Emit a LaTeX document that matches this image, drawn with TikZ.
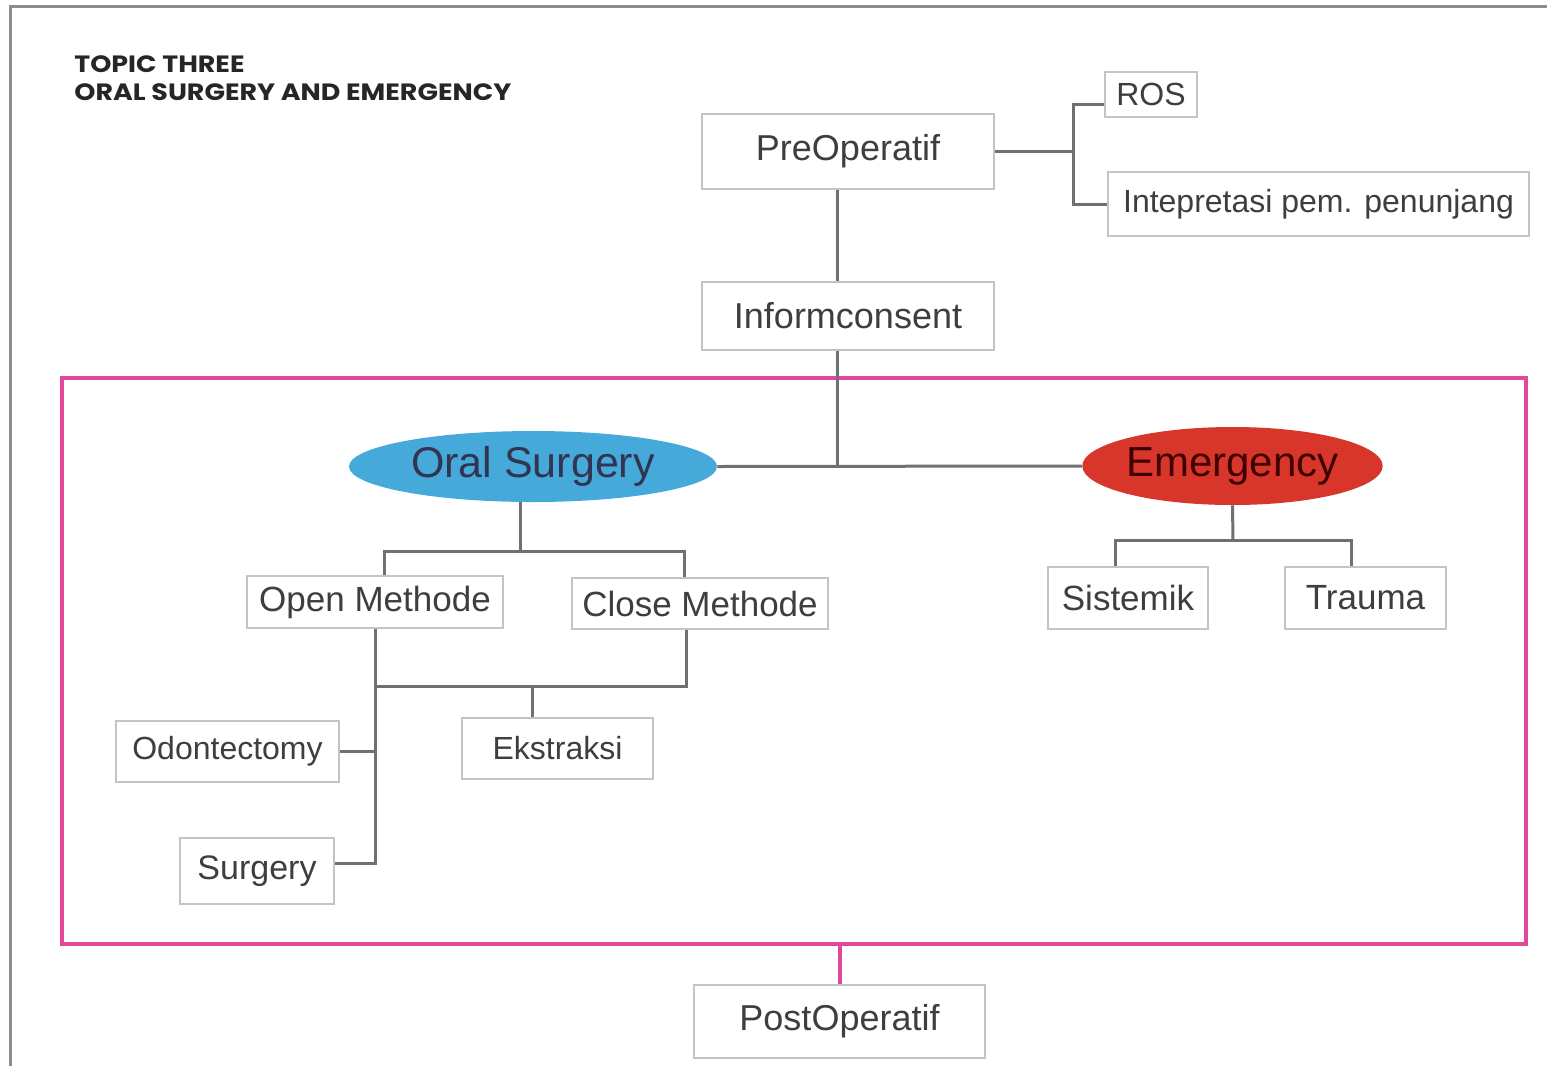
\documentclass[tikz,border=0pt]{standalone}
\usepackage{fontspec}
\setmainfont{Liberation Sans}
\newfontfamily\titlefont{Poppins}
\usetikzlibrary{shapes.geometric}
\definecolor{linegray}{HTML}{707070}
\definecolor{boxgray}{HTML}{C4C4C4}
\definecolor{txtgray}{HTML}{3E3E3E}
\definecolor{framegray}{HTML}{8C8C8C}
\definecolor{pinkc}{HTML}{E2479A}
\definecolor{osblue}{HTML}{45AADA}
\definecolor{emred}{HTML}{D8362B}
\tikzset{
  box/.style={draw=boxgray, line width=1pt, fill=white, inner sep=0pt, text=txtgray},
  conn/.style={draw=linegray, line width=1.5pt},
  pinkln/.style={draw=pinkc, line width=2pt},
  oval/.style={ellipse, inner sep=0pt, draw=none},
  titletxt/.style={anchor=base west, inner sep=0pt, font=\titlefont\bfseries\fontsize{11.8}{12}\selectfont, text=black!85},
}
\begin{document}
\begin{tikzpicture}[x=0.5pt,y=-0.5pt]
\useasboundingbox (0,0) rectangle (1547,1066);
% outer frame
\draw[framegray, line width=1.5pt] (10,1066) -- (10,6) -- (1547,6);
% title
\node[titletxt] (t1) at (74,72) {\scalebox{1.14}[1]{TOPIC THREE}};
\node[titletxt] (t2) at (74,100) {\scalebox{1.14}[1]{ORAL SURGERY AND EMERGENCY}};
% pink frame
\node[pinkln, minimum width=732pt, minimum height=283pt, inner sep=0pt] (frame) at (794,661) {};
% nodes
\node[box, minimum width=146pt, minimum height=37.5pt, font=\fontsize{18}{20}\selectfont] (pre) at (848,151.5) {PreOperatif};
\node[box, minimum width=46pt, minimum height=22.5pt, font=\fontsize{16}{18}\selectfont] (ros) at (1151,94.5) {ROS};
\node[box, minimum width=210.5pt, minimum height=32pt, font=\fontsize{16}{18}\selectfont] (intep) at (1318.5,204) {Intepretasi pem. penunjang};
\node[box, minimum width=146pt, minimum height=34pt, font=\fontsize{18}{20}\selectfont] (inf) at (848,316) {Informconsent};
\node[oval, fill=osblue, minimum width=184pt, minimum height=35.5pt, text=black!80!blue!60!gray, font=\fontsize{21.5}{23}\selectfont] (os) at (533,466.5) {Oral Surgery};
\node[oval, fill=emred, minimum width=145.5pt, minimum height=39pt, text=black!75!red, font=\fontsize{21}{23}\selectfont] (em) at (1232.5,466) {Emergency};
\node[box, minimum width=128pt, minimum height=26pt, font=\fontsize{17.5}{19}\selectfont] (open) at (375,602) {Open Methode};
\node[box, minimum width=128pt, minimum height=25.5pt, font=\fontsize{17.5}{19}\selectfont] (close) at (700,603.5) {Close Methode};
\node[box, minimum width=95.5pt, minimum height=30.5pt, font=\fontsize{16}{18}\selectfont] (ekst) at (557.5,748.5) {Ekstraksi};
\node[box, minimum width=111.5pt, minimum height=30.5pt, font=\fontsize{16}{18}\selectfont] (odo) at (227.5,751.5) {Odontectomy};
\node[box, minimum width=77pt, minimum height=33pt, font=\fontsize{17}{19}\selectfont] (surg) at (257,871) {Surgery};
\node[box, minimum width=80pt, minimum height=31pt, font=\fontsize{17.5}{19}\selectfont] (sis) at (1128,598) {Sistemik};
\node[box, minimum width=80.5pt, minimum height=31pt, font=\fontsize{17.5}{19}\selectfont] (tra) at (1365.5,598) {Trauma};
\node[box, minimum width=145.5pt, minimum height=36.5pt, font=\fontsize{18}{20}\selectfont] (post) at (839.5,1021.5) {PostOperatif};
% junction coordinates
\coordinate (jr) at (1073,151.5);
\coordinate (jx) at (837,0);
\coordinate (jc) at (837,466);
\coordinate (osx) at (520,0);
\coordinate (jos) at (520,551);
\coordinate (jm) at (375,686);
\coordinate (jem) at (1233,540);
% connectors
\draw[conn] (pre.east) -- (jr);
\draw[conn] ([yshift=-4.75pt]ros.west) -| (jr) |- (intep.west);
\draw[conn] (pre.south -| jx) -- (inf.north -| jx);
\draw[conn] (inf.south -| jx) -- (jc);
\draw[conn] (os.east) -- (em.west);
\draw[conn] (os.south -| osx) -- (jos);
\draw[conn] ([xshift=4.5pt]open.north) |- (jos) -| ([xshift=-8pt]close.north);
\draw[conn] (open.south) |- ([yshift=4pt]surg.east);
\draw[conn] (odo.east) -- (odo.east -| open.south);
\draw[conn] ([xshift=-7pt]close.south) |- (jm);
\draw[conn] ([xshift=-12.75pt]ekst.north) -- ([xshift=-12.75pt]ekst.north |- jm);
\draw[conn] (em.south) -- (jem);
\draw[conn] ([xshift=-6.5pt]sis.north) |- (jem) -| ([xshift=-7.25pt]tra.north);
\draw[pinkln] (post.north) -- (post.north |- frame.south);
\end{tikzpicture}
\end{document}
